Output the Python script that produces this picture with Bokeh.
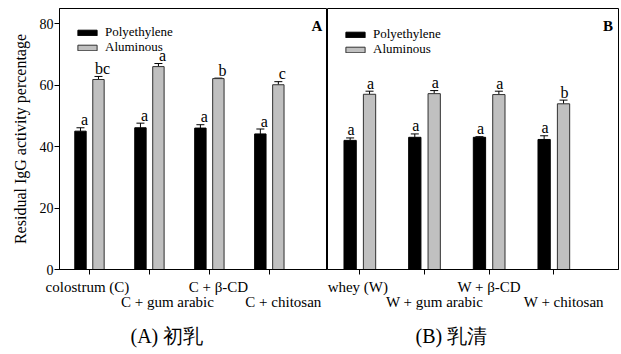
from bokeh.plotting import figure
from bokeh.layouts import row
from bokeh.models import (ColumnDataSource, Range1d, FixedTicker, Label, Whisker, TeeHead,
                          LinearAxis, Title, Legend, LegendItem)
from bokeh.transform import dodge
from bokeh.core.properties import value
from bokeh.embed import file_html
from bokeh.resources import INLINE

# ---------------- data ----------------
groups_a = ["colostrum (C)", "C + gum arabic", "C + \u03b2-CD", "C + chitosan"]
groups_b = ["whey (W)", "W + gum arabic", "W + \u03b2-CD", "W + chitosan"]

pe_a = [45.0, 46.1, 46.0, 44.1]
pe_a_err = [1.1, 1.5, 1.1, 1.6]
al_a = [61.8, 66.0, 62.1, 60.1]
al_a_err = [1.0, 1.0, 0.15, 1.0]
pe_a_sig = ["a", "a", "a", "a"]
al_a_sig = ["bc", "a", "b", "c"]

pe_b = [42.0, 43.0, 43.0, 42.3]
pe_b_err = [0.8, 1.1, 0.2, 1.2]
al_b = [57.0, 57.2, 56.9, 53.9]
al_b_err = [1.0, 1.0, 1.1, 1.2]
pe_b_sig = ["a", "a", "a", "a"]
al_b_sig = ["a", "a", "a", "b"]

y_ticks = [0, 20, 40, 60, 80]
series_names = ["Polyethylene", "Aluminous"]
panel_letters = ["A", "B"]
captions = ["(A) \u521d\u4e73", "(B) \u4e73\u6e05"]

# ---------------- style ----------------
SERIF = "Liberation Serif"
PE_FILL = "#000000"
AL_FILL = "#c0c0c0"
AL_LINE = "#303030"
Y_END = 84.9
FRAME_H = 261
TOP = 8
BOTTOM = 84

y_range = Range1d(0, Y_END)


def make_panel(groups, pe, pe_err, al, al_err, pe_sig, al_sig, letter, caption,
               frame_w, left, right, show_y, x_end, label_offsets, letter_dx,
               caption_offset, legend_ys):
    xs = list(range(len(groups)))
    src = ColumnDataSource(dict(
        x=xs, pe=pe, al=al,
        pe_top=[v + e for v, e in zip(pe, pe_err)],
        al_top=[v + e for v, e in zip(al, al_err)],
        pe_sig=pe_sig, al_sig=al_sig,
    ))
    x_start = -0.5
    p = figure(output_backend="svg", toolbar_location=None,
               frame_width=frame_w, frame_height=FRAME_H,
               x_range=Range1d(x_start, x_end), y_range=y_range,
               min_border_left=left, min_border_right=right,
               min_border_top=TOP, min_border_bottom=BOTTOM,
               y_axis_location="left" if show_y else None,
               background_fill_color="white", border_fill_color="white")
    p.outline_line_color = "black"
    p.outline_line_width = 1
    p.grid.visible = False

    # label positions (shifted a little from the group centres, as in the original)
    ppu = frame_w / (x_end - x_start)
    lab_pos = [xs[i] + label_offsets[i] / ppu for i in range(len(groups))]
    row1 = [i for i in range(len(groups)) if i % 2 == 0]
    row2 = [i for i in range(len(groups)) if i % 2 == 1]

    # main x axis: visible tick marks at group centres (minor ticks), first label row
    xa = p.xaxis[0]
    xa.ticker = FixedTicker(ticks=[lab_pos[i] for i in row1], minor_ticks=xs)
    xa.major_label_overrides = {lab_pos[i]: groups[i] for i in row1}
    xa.major_tick_line_color = None
    xa.major_tick_out = 5
    xa.major_tick_in = 0
    xa.minor_tick_line_color = "black"
    xa.minor_tick_out = 5
    xa.minor_tick_in = 0
    xa.major_label_standoff = 4
    xa.major_label_text_font = SERIF
    xa.major_label_text_font_size = "15px"
    xa.major_label_text_color = "black"
    xa.axis_line_color = "black"

    # second label row: a line-less axis
    la = LinearAxis(ticker=FixedTicker(ticks=[lab_pos[i] for i in row2]),
                    major_label_overrides={lab_pos[i]: groups[i] for i in row2},
                    axis_line_color=None, major_tick_line_color=None,
                    minor_tick_line_color=None, major_tick_out=0, major_tick_in=0,
                    major_label_standoff=-4,
                    major_label_text_font=SERIF, major_label_text_font_size="15px",
                    major_label_text_color="black")
    p.add_layout(la, "below")

    if show_y:
        ya = p.yaxis[0]
        ya.ticker = FixedTicker(ticks=y_ticks)
        ya.major_tick_out = 5
        ya.major_tick_in = 0
        ya.minor_tick_line_color = None
        ya.major_label_standoff = 1
        ya.major_label_text_font = SERIF
        ya.major_label_text_font_size = "14px"
        ya.major_label_text_color = "black"
        ya.axis_label = "Residual IgG activity percentage"
        ya.axis_label_text_font = SERIF
        ya.axis_label_text_font_size = "16px"
        ya.axis_label_text_font_style = "normal"
        ya.axis_label_text_color = "black"
        ya.axis_label_standoff = 8
        ya.axis_line_color = "black"
        ya.major_tick_line_color = "black"

    off = 0.15
    bw = 0.19
    r_pe = p.vbar(x=dodge("x", -off), top="pe", bottom=0, width=bw, source=src,
                  fill_color=PE_FILL, line_color="black", line_width=1)
    r_al = p.vbar(x=dodge("x", off), top="al", bottom=0, width=bw, source=src,
                  fill_color=AL_FILL, line_color=AL_LINE, line_width=1)

    for dx, lo, hi in ((-off, "pe", "pe_top"), (off, "al", "al_top")):
        w = Whisker(source=src, base=dodge("x", dx), lower=lo, upper=hi,
                    dimension="height", line_color="black", line_width=1,
                    lower_head=None,
                    upper_head=TeeHead(size=8, line_color="black", line_width=1))
        p.add_layout(w)

    for dx, top, sig in ((-off, "pe_top", "pe_sig"), (off, "al_top", "al_sig")):
        p.text(x=dodge("x", dx), y=top, text=sig, source=src,
               text_font=value(SERIF), text_font_size="16px", text_color="black",
               text_align="center", text_baseline="alphabetic",
               x_offset=letter_dx, y_offset=-8)

    # legend: one entry per box so the two rows sit close together
    for name, r, ly in zip(series_names, (r_pe, r_al), legend_ys):
        lg = Legend(items=[LegendItem(label=name, renderers=[r])], location=(16, ly),
                    background_fill_alpha=0, border_line_color=None, padding=0, margin=0,
                    glyph_width=24, glyph_height=7, label_height=8, label_standoff=6,
                    label_text_font=SERIF, label_text_font_size="13px",
                    label_text_color="black")
        p.add_layout(lg)

    # panel letter
    p.add_layout(Label(x=frame_w - 10.5, y=FRAME_H - 17, x_units="screen", y_units="screen",
                       text=letter, text_font=SERIF, text_font_size="15px",
                       text_font_style="bold", text_color="black",
                       text_align="center", text_baseline="middle"))
    # caption below the panel
    p.add_layout(Title(text=caption, align="left", offset=caption_offset, standoff=21,
                       text_font=SERIF, text_font_size="20px", text_font_style="normal",
                       text_color="black"), "below")
    return p


pa = make_panel(groups_a, pe_a, pe_a_err, al_a, al_a_err, pe_a_sig, al_a_sig,
                panel_letters[0], captions[0], 268, 59, 0, True, 3.97,
                [-2, 18, 9, 14], 4, 71, (229, 214))
pb = make_panel(groups_b, pe_b, pe_b_err, al_b, al_b_err, pe_b_sig, al_b_sig,
                panel_letters[1], captions[1], 291, 0, 2, False, 4.0,
                [-2, 10, 0, 10], 1, 88, (227, 212))

layout = row(pa, pb, spacing=0)
open("out.html", "w").write(file_html(layout, INLINE))
